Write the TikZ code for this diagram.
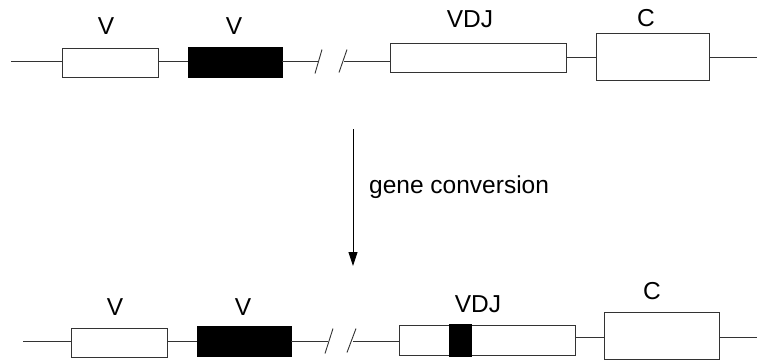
\documentclass[tikz,border=0pt]{standalone}
\usepackage{fontspec}
\setmainfont{Liberation Sans}
\usetikzlibrary{arrows.meta,calc}
\tikzset{
  seg/.style={draw=black!80,line width=0.9pt,fill=white,inner sep=0pt},
  blk/.style={draw=black,line width=0.9pt,fill=black,inner sep=0pt},
  wire/.style={draw=black!80,line width=0.9pt},
  lbl/.style={inner sep=0pt,font=\fontsize{24.5}{28}\selectfont},
}
\begin{document}
\begin{tikzpicture}[x=1pt,y=-1pt]
\useasboundingbox (0,0) rectangle (757,362);
% ---------- top row ----------
\coordinate (tL) at (11,61.5);
\node[seg,minimum width=96pt,minimum height=29pt] (tv1) at (110,63) {};
\node[blk,minimum width=94pt,minimum height=30pt] (tv2) at (235,62) {};
\coordinate (ts1) at (318,61.5);
\coordinate (ts2) at (344,61.5);
\node[seg,minimum width=176pt,minimum height=29pt] (tvdj) at (478,57.5) {};
\node[seg,minimum width=113pt,minimum height=47pt] (tc) at (652.5,56.5) {};
\coordinate (tR) at (757,57);
\draw[wire] (tL) -- (tL -| tv1.west);
\draw[wire] (tL -| tv1.east) -- (tL -| tv2.west);
\draw[wire] (tL -| tv2.east) -- (ts1);
\draw[wire] ($(ts1)+(-3,12)$) -- ($(ts1)+(4,-12)$);
\draw[wire] ($(ts2)+(-5,11)$) -- ($(ts2)+(3,-12)$);
\draw[wire] (ts2) -- (ts2 -| tvdj.west);
\draw[wire] (tR -| tvdj.east) -- (tR -| tc.west);
\draw[wire] (tR -| tc.east) -- (tR);
\node[lbl] (tl1) at (106,26) {V};
\node[lbl] (tl2) at (234,26) {V};
\node[lbl] (tl3) at (470,19.5) {VDJ};
\node[lbl] (tl4) at (646,18) {C};
% ---------- arrow ----------
\coordinate (a1) at (353,129);
\coordinate (a2) at (353,266);
\draw[draw=black,line width=0.9pt,-{Triangle[length=14pt,width=9pt]}] (a1) -- (a2);
\node[lbl,anchor=west] (gc) at (369,187) {gene conversion};
% ---------- bottom row ----------
\coordinate (bL) at (23,341.5);
\node[seg,minimum width=96pt,minimum height=29pt] (bv1) at (119,342.5) {};
\node[blk,minimum width=94pt,minimum height=30pt] (bv2) at (244,341) {};
\coordinate (bs1) at (328,341.5);
\coordinate (bs2) at (353,341.5);
\node[seg,minimum width=176pt,minimum height=30pt] (bvdj) at (487,340) {};
\node[blk,minimum width=22pt,minimum height=32pt] (bins) at (460,340) {};
\node[seg,minimum width=115pt,minimum height=47pt] (bc) at (661.5,335.5) {};
\coordinate (bR) at (757,337);
\draw[wire] (bL) -- (bL -| bv1.west);
\draw[wire] (bL -| bv1.east) -- (bL -| bv2.west);
\draw[wire] (bL -| bv2.east) -- (bs1);
\draw[wire] ($(bs1)+(-3,12)$) -- ($(bs1)+(5,-13)$);
\draw[wire] ($(bs2)+(-6,11)$) -- ($(bs2)+(3,-13)$);
\draw[wire] (bs2) -- (bs2 -| bvdj.west);
\draw[wire] (bR -| bvdj.east) -- (bR -| bc.west);
\draw[wire] (bR -| bc.east) -- (bR);
\node[lbl] (bl1) at (115,307.5) {V};
\node[lbl] (bl2) at (243,307.5) {V};
\node[lbl] (bl3) at (478,304.5) {VDJ};
\node[lbl] (bl4) at (652,291.5) {C};
\end{tikzpicture}
\end{document}
